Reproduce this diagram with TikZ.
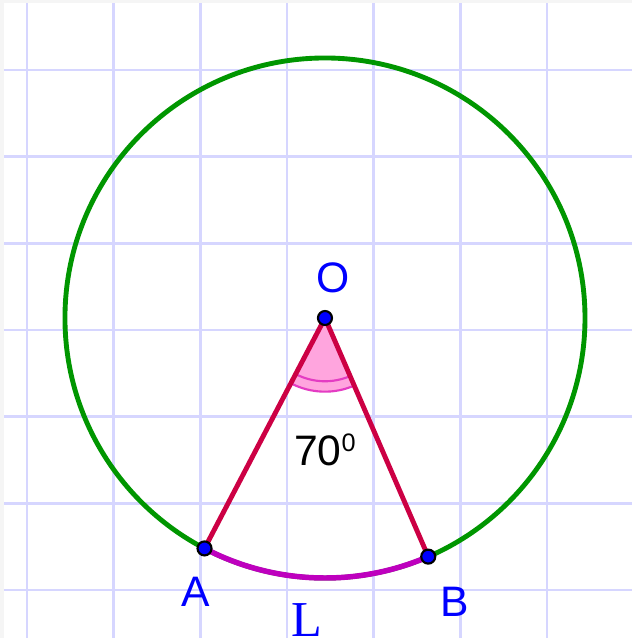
\documentclass[tikz,border=0pt]{standalone}
\usepackage{fontspec}
\setmainfont{Liberation Sans}
\newfontfamily\serifL{Liberation Serif}
\usetikzlibrary{calc}

\definecolor{gridlav}{RGB}{214,214,255}
\definecolor{circgreen}{RGB}{0,150,0}
\definecolor{radred}{RGB}{204,0,68}
\definecolor{arcmag}{RGB}{190,0,190}
\definecolor{sectpink}{RGB}{255,165,222}
\definecolor{anglemag}{RGB}{228,60,195}
\definecolor{ptblue}{RGB}{0,0,255}

\begin{document}
\begin{tikzpicture}[every node/.style={font=\fontsize{14}{16}\selectfont},
  pt/.style={circle, fill=ptblue, draw=black, line width=0.7pt, inner sep=0pt, minimum size=4.6pt},
  ptlabel/.style={text=ptblue, inner sep=0pt}]
  \useasboundingbox (-0.3115,-0.554) rectangle (6.980,6.807);
  % paper and grid
  \fill[gray!8] (-0.3115,-0.554) rectangle (6.980,6.807);
  \fill[white] (-0.265,-0.554) rectangle (6.980,6.772);
  \draw[gridlav, line width=0.8pt] (-0.265,-0.554) grid (6.98,6.772);

  % centre and points on the circle
  \coordinate (O) at (3.438,3.138);
  \coordinate (A) at ($(O)+(242.4:3)$);
  \coordinate (B) at ($(O)+(293.4:3)$);

  % circle
  \draw[circgreen, line width=1.6pt] (O) circle[radius=3];
  % arc L
  \draw[arcmag, line width=1.8pt] (A) arc[start angle=242.4, end angle=293.4, radius=3];

  % angle mark
  \fill[sectpink] (O) -- ($(O)+(242.4:0.85)$) arc[start angle=242.4, end angle=293.4, radius=0.85] -- cycle;
  \draw[anglemag, line width=0.7pt] ($(O)+(242.4:0.85)$) arc[start angle=242.4, end angle=293.4, radius=0.85];
  \draw[anglemag, line width=0.7pt] ($(O)+(242.4:0.73)$) arc[start angle=242.4, end angle=293.4, radius=0.73];

  % radii
  \draw[radred, line width=1.6pt] (A) -- (O) -- (B);

  % points
  \node[pt] (pO) at (O) {};
  \node[pt] (pA) at (A) {};
  \node[pt] (pB) at (B) {};

  % labels
  \node[ptlabel] (lO) at (3.531,3.600) {O};
  \node[ptlabel] (lA) at (1.950,-0.023) {A};
  \node[ptlabel] (lB) at (4.938,-0.138) {B};
  \node[ptlabel, font=\serifL\fontsize{16.5}{18}\selectfont] (lL) at (3.231,-0.345) {L};
  \node[inner sep=0pt] (angle) at (3.438,1.615) {70\raisebox{4.4pt}{\fontsize{8.3}{8}\selectfont 0}};
\end{tikzpicture}
\end{document}
